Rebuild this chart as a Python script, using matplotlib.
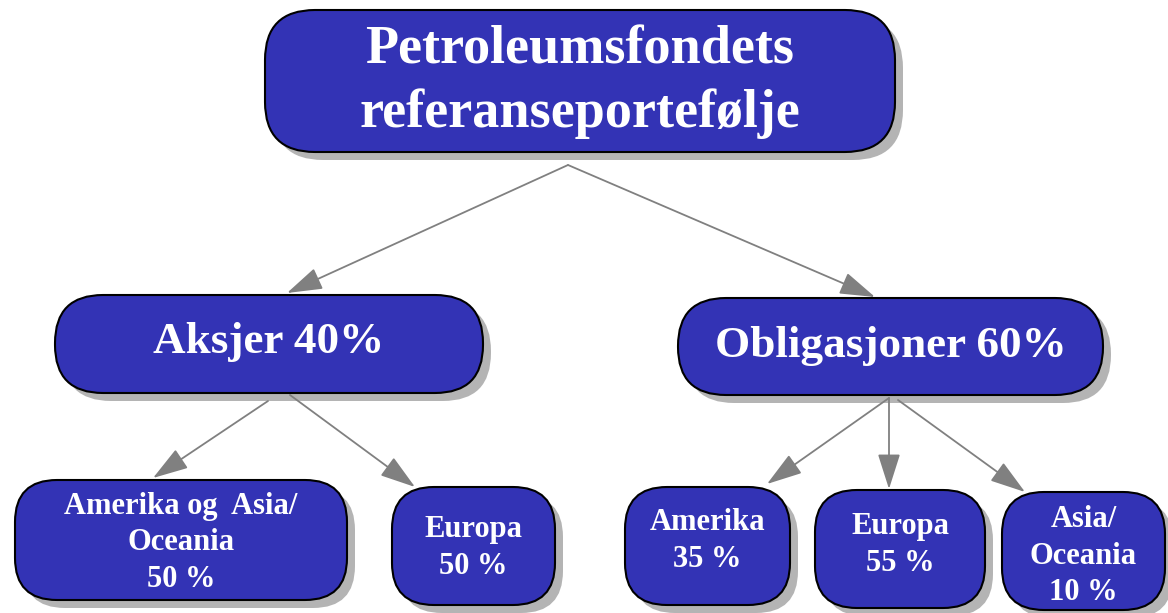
import matplotlib.pyplot as plt
from matplotlib.patches import FancyBboxPatch, FancyArrowPatch

# noder i treet (tekst) og hvem som peker på hvem
node_names = ['root', 'aksjer', 'oblig', 'aks_am_as', 'aks_eu', 'obl_am', 'obl_eu', 'obl_as']
node_labels = ['Petroleumsfondets\nreferanseportefølje',
               'Aksjer 40%',
               'Obligasjoner 60%',
               'Amerika og  Asia/\nOceania\n50 %',
               'Europa\n50 %',
               'Amerika\n35 %',
               'Europa\n55 %',
               'Asia/\nOceania\n10 %']
edges = [('root', 'aksjer'), ('root', 'oblig'),
         ('aksjer', 'aks_am_as'), ('aksjer', 'aks_eu'),
         ('oblig', 'obl_am'), ('oblig', 'obl_eu'), ('oblig', 'obl_as')]

# layout i piksler: (x0, y0, x1, y1), hjørneradius, skriftstørrelse, linjeavstand
layout = {
    'root':      ((265, 10, 895, 152), 50, 39, 1.33),
    'aksjer':    ((55, 295, 483, 393), 48, 32.5, 1.0),
    'oblig':     ((678, 298, 1103, 395), 48, 32.5, 1.0),
    'aks_am_as': ((15, 480, 347, 600), 42, 22, 1.36),
    'aks_eu':    ((392, 487, 555, 605), 42, 22, 1.36),
    'obl_am':    ((625, 487, 790, 605), 42, 22, 1.36),
    'obl_eu':    ((815, 490, 985, 608), 42, 22, 1.36),
    'obl_as':    ((1002, 492, 1165, 610), 42, 22, 1.36),
}
text_y = {'root': 82, 'aksjer': 342, 'oblig': 346,
          'aks_am_as': 543, 'aks_eu': 548, 'obl_am': 541, 'obl_eu': 545, 'obl_as': 556}
# pilenes start- og endepunkt
arrow_pts = {
    ('root', 'aksjer'): ((568, 165), (287, 293)),
    ('root', 'oblig'): ((568, 165), (875, 297)),
    ('aksjer', 'aks_am_as'): ((268, 401), (153, 478)),
    ('aksjer', 'aks_eu'): ((290, 395), (415, 487)),
    ('oblig', 'obl_am'): ((889, 398), (767, 484)),
    ('oblig', 'obl_eu'): ((889, 398), (889, 489)),
    ('oblig', 'obl_as'): ((898, 400), (1025, 492)),
}

box_color = '#3333b5'
shadow_color = '#b4b4b4'
arrow_color = '#808080'

fig = plt.figure(figsize=(11.68, 6.13), dpi=100)
ax = fig.add_axes([0, 0, 1, 1])
ax.set_xlim(0, 1168)
ax.set_ylim(613, 0)
ax.axis('off')

for name, label in zip(node_names, node_labels):
    (x0, y0, x1, y1), r, fs, ls = layout[name]
    w, h = x1 - x0, y1 - y0
    shadow = FancyBboxPatch((x0 + 8, y0 + 8), w, h,
                            boxstyle=f'round,pad=0,rounding_size={r}',
                            fc=shadow_color, ec='none', zorder=1)
    ax.add_patch(shadow)
    box = FancyBboxPatch((x0, y0), w, h,
                         boxstyle=f'round,pad=0,rounding_size={r}',
                         fc=box_color, ec='black', lw=1.5, zorder=2)
    ax.add_patch(box)
    ax.text((x0 + x1) / 2, text_y[name], label, color='white', fontsize=fs,
            fontweight='bold', family='Liberation Serif', ha='center',
            va='center', linespacing=ls, zorder=3)

for edge in edges:
    p0, p1 = arrow_pts[edge]
    arr = FancyArrowPatch(p0, p1, arrowstyle='-|>,head_length=2.2,head_width=0.7',
                          mutation_scale=10, color=arrow_color, lw=1.3,
                          shrinkA=0, shrinkB=0, zorder=1.5)
    ax.add_patch(arr)

fig.savefig('out.png', dpi=100)
